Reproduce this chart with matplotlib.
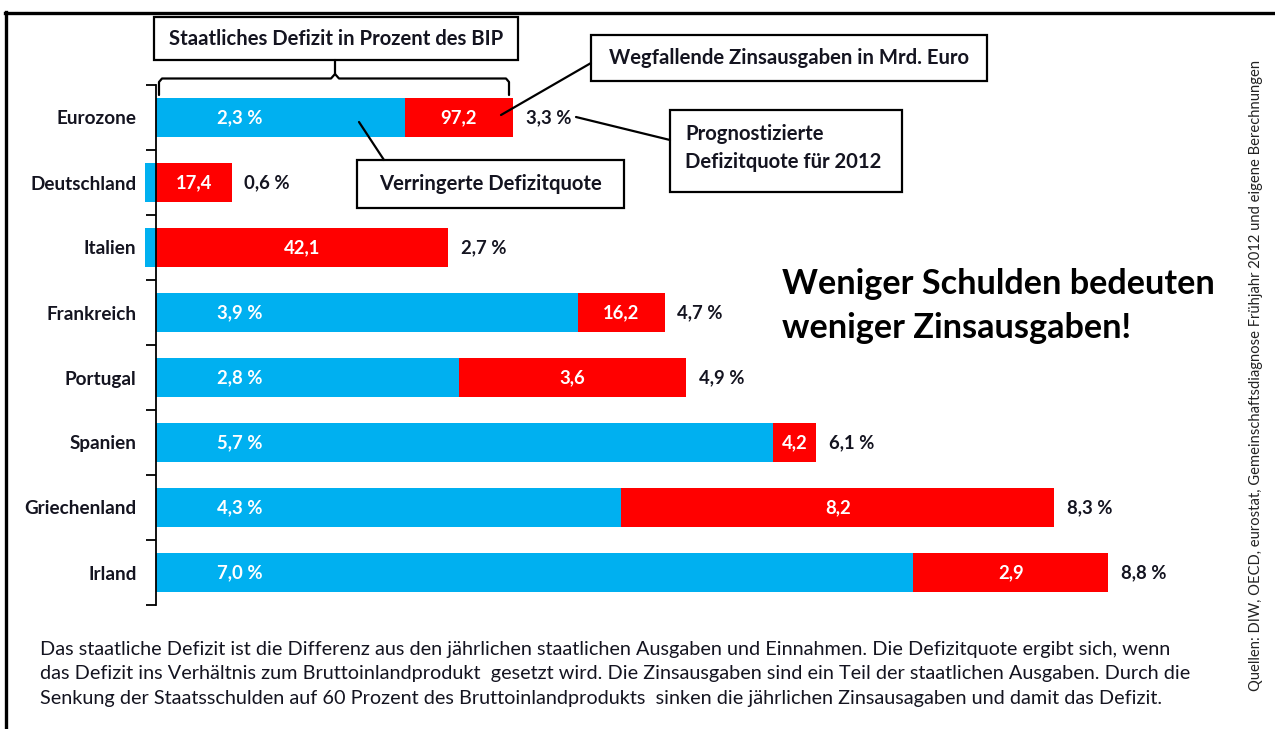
import numpy as np
import matplotlib
matplotlib.use("Agg")
import matplotlib.pyplot as plt
from matplotlib.lines import Line2D
from matplotlib.patches import Rectangle

plt.rcParams['font.family'] = ['Lato', 'DejaVu Sans']

# ---------------- data ----------------
countries = ["Eurozone", "Deutschland", "Italien", "Frankreich",
             "Portugal", "Spanien", "Griechenland", "Irland"]
reduced_quote = [2.3, -0.1, -0.1, 3.9, 2.8, 5.7, 4.3, 7.0]       # blue part (% of GDP)
interest_part = [1.0, 0.7, 2.7, 0.8, 2.1, 0.4, 4.0, 1.8]         # red part (% of GDP)
reduced_labels = ["2,3 %", "", "", "3,9 %", "2,8 %", "5,7 %", "4,3 %", "7,0 %"]
interest_labels = ["97,2", "17,4", "42,1", "16,2", "3,6", "4,2", "8,2", "2,9"]
total_labels = ["3,3 %", "0,6 %", "2,7 %", "4,7 %", "4,9 %", "6,1 %", "8,3 %", "8,8 %"]

BLUE = "#00B0F0"
RED = "#FF0000"
TXT = "#141420"

W, H = 1275, 729
fig = plt.figure(figsize=(W / 100, H / 100), dpi=100)


def fx(x):
    return x / W


def fy(y):
    return 1 - y / H


# frame (top + left)
fig.add_artist(Line2D([fx(5), fx(1275)], [fy(12.5), fy(12.5)], color="black", lw=2.4))
fig.add_artist(Line2D([fx(5.5), fx(5.5)], [fy(12), fy(729)], color="black", lw=2.4))

ax = fig.add_axes([fx(156), fy(605), (1238 - 156) / W, 520 / H])
ax.set_xlim(0, 10)
ax.set_ylim(len(countries) - 0.5, -0.5)

y = np.arange(len(countries))
blue = np.array(reduced_quote)
red = np.array(interest_part)
red_left = np.maximum(blue, 0)

ax.barh(y, blue, height=0.6, color=BLUE, clip_on=False, zorder=2)
ax.barh(y, red, left=red_left, height=0.6, color=RED, clip_on=False, zorder=2)

for i in range(len(countries)):
    if reduced_labels[i]:
        ax.text(0.77, y[i], reduced_labels[i], ha="center", va="center",
                color="white", fontsize=13.3, fontweight="bold", zorder=3)
    ax.text(red_left[i] + red[i] / 2, y[i], interest_labels[i], ha="center",
            va="center", color="white", fontsize=13.3, fontweight="bold", zorder=3)
    ax.annotate(total_labels[i], (red_left[i] + red[i], y[i]), xytext=(9, 0),
                textcoords="offset points", ha="left", va="center",
                color=TXT, fontsize=13.3, fontweight="bold", zorder=3)

# axes styling
for s in ["top", "right", "bottom"]:
    ax.spines[s].set_visible(False)
ax.spines["left"].set_linewidth(1.3)
ax.set_xticks([])
ax.set_yticks(y)
ax.set_yticklabels(countries, fontsize=13.6, fontweight="bold", color=TXT)
ax.tick_params(axis="y", which="major", length=0, pad=14)
ax.set_yticks(np.arange(-0.5, len(countries), 1.0), minor=True)
ax.tick_params(axis="y", which="minor", length=7, width=1.3, direction="out")
ax.patch.set_alpha(0)


def box(x0, y0, x1, y1):
    fig.add_artist(Rectangle((fx(x0), fy(y1)), fx(x1) - fx(x0), fy(y0) - fy(y1),
                             facecolor="white", edgecolor="black", lw=1.6, zorder=5))


def line(pts, lw=1.6):
    xs = [fx(p[0]) for p in pts]
    ys = [fy(p[1]) for p in pts]
    fig.add_artist(Line2D(xs, ys, color="black", lw=lw, zorder=6,
                          solid_joinstyle="round", solid_capstyle="round"))


BOXFS = 14.6

# box: Staatliches Defizit
box(154, 17, 518, 60)
fig.text(fx(336), fy(39), "Staatliches Defizit in Prozent des BIP", ha="center", va="center",
         fontsize=BOXFS, fontweight="bold", color=TXT, zorder=7)
# curly bracket
line([(159, 95), (159, 82), (162, 78.5), (331, 78.5), (335, 74), (335, 60)])
line([(509, 95), (509, 82), (506, 78.5), (339, 78.5), (335, 74)])

# box: Wegfallende Zinsausgaben
box(591, 35, 987, 81)
fig.text(fx(789), fy(58), "Wegfallende Zinsausgaben in Mrd. Euro", ha="center", va="center",
         fontsize=BOXFS, fontweight="bold", color=TXT, zorder=7)
line([(591, 63), (501, 115)])

# box: Prognostizierte Defizitquote
box(670, 110, 902, 192)
fig.text(fx(685), fy(148), "Prognostizierte\nDefizitquote für 2012", ha="left", va="center",
         fontsize=BOXFS, fontweight="bold", color=TXT, linespacing=1.55, zorder=7)
line([(576, 117), (670, 140)])

# box: Verringerte Defizitquote
box(357, 160, 624, 208)
fig.text(fx(490), fy(184), "Verringerte Defizitquote", ha="center", va="center",
         fontsize=BOXFS, fontweight="bold", color=TXT, zorder=7)
line([(359, 122), (384, 160)])

# headline
fig.text(fx(782), fy(306), "Weniger Schulden bedeuten\nweniger Zinsausgaben!", ha="left",
         va="center", fontsize=24.7, fontweight="bold", color="black", linespacing=1.45)

# footer
footer = ("Das staatliche Defizit ist die Differenz aus den jährlichen staatlichen Ausgaben und Einnahmen. Die Defizitquote ergibt sich, wenn\n"
          "das Defizit ins Verhältnis zum Bruttoinlandprodukt  gesetzt wird. Die Zinsausgaben sind ein Teil der staatlichen Ausgaben. Durch die\n"
          "Senkung der Staatsschulden auf 60 Prozent des Bruttoinlandprodukts  sinken die jährlichen Zinsausagaben und damit das Defizit.")
fig.text(fx(40), fy(674), footer, ha="left", va="center", fontsize=14.3, color=TXT,
         linespacing=1.55)

# source
fig.text(fx(1256), fy(375), "Quellen: DIW, OECD, eurostat, Gemeinschaftsdiagnose Frühjahr 2012 und eigene Berechnungen",
         rotation=90, ha="center", va="center", fontsize=10.6, color="#222222")

fig.savefig("out.png", dpi=100)
